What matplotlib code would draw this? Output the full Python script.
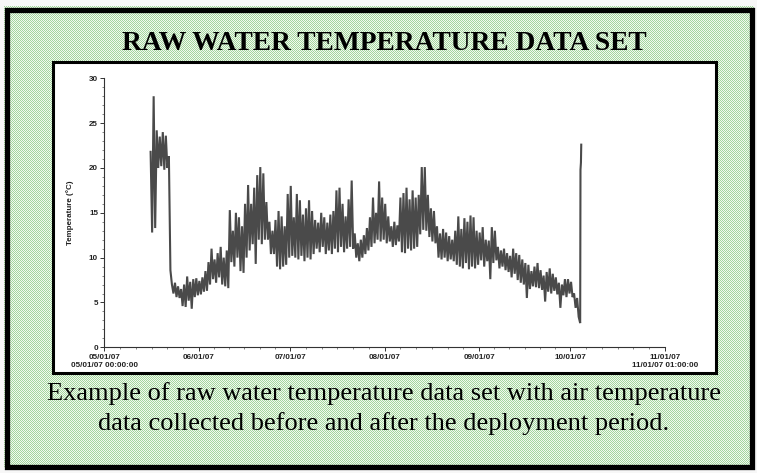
import numpy as np
import matplotlib
matplotlib.use('Agg')
import matplotlib.pyplot as plt
from matplotlib.patches import Rectangle

W, H = 757, 473

# ---------------- data ----------------
# days after 05/01/07 00:00 of the first daily record (May 16)
first_day = 15
daily_max = [21.8, 28.0, 24.2, 23.5, 24.0, 23.6, 21.3,
             7.0, 7.2, 6.8, 6.5, 7.0, 7.9, 7.3, 7.6, 7.7, 7.4, 7.8, 8.5,
             9.5, 11.0, 9.8, 10.5, 11.2, 10.0, 10.8,
             15.3, 13.0, 15.0, 14.5, 13.5, 16.0, 18.1, 16.0, 17.8, 19.2, 20.1,
             19.4, 16.2, 14.0, 13.0, 14.2, 15.2, 14.6, 13.5, 17.1, 18.0,
             14.5, 17.1, 16.4, 14.8, 15.5, 16.4, 15.2, 14.2, 13.9, 15.0,
             14.5, 13.9, 14.8, 15.2, 17.5, 17.8, 16.0, 14.6, 16.5, 18.6,
             12.7, 11.6, 12.0, 12.5, 13.3, 14.5, 16.7, 15.0, 18.5, 16.7,
             16.0, 14.6, 13.5, 14.0, 13.6, 16.7, 17.2, 17.8, 16.5, 17.5,
             16.7, 17.0, 20.1, 20.1, 17.0, 15.5, 15.2, 13.5, 12.7, 13.2,
             12.8, 12.4, 12.0, 13.0, 14.6, 13.2, 14.4, 14.0, 14.7, 14.5,
             13.0, 12.8, 13.4, 12.0, 11.9, 13.4, 13.0, 11.2, 10.8, 11.0,
             10.5, 10.2, 11.0, 10.5, 10.3, 9.8, 9.4, 9.2, 8.5, 9.0,
             9.4, 8.6, 8.0, 8.4, 8.8, 8.2, 7.8, 7.2, 7.0, 7.6,
             7.6, 7.3, 6.0, 5.5]
daily_min = [12.8, 13.3, 20.0, 20.2, 19.8, 20.0, 8.6,
             6.0, 5.6, 5.5, 4.6, 4.5, 5.2, 4.3, 5.6, 5.8, 5.9, 6.2, 6.3,
             7.0, 7.6, 7.2, 7.8, 7.0, 6.8, 6.6,
             9.5, 9.0, 10.0, 8.5, 8.3, 10.0, 10.8, 11.5, 9.3, 12.0, 11.5,
             12.0, 12.0, 10.4, 10.4, 9.0, 8.7, 9.0, 9.2, 10.0, 10.2,
             10.0, 9.8, 10.2, 9.6, 10.0, 9.8, 10.4, 11.0, 10.6, 11.2,
             10.4, 10.8, 10.4, 11.0, 10.6, 11.2, 10.6, 11.0, 11.2, 11.0,
             10.0, 9.6, 10.0, 10.4, 10.8, 11.2, 11.6, 12.0, 11.8, 12.0,
             11.6, 11.8, 11.2, 11.4, 11.8, 10.6, 10.5, 11.0, 10.8, 11.0,
             11.2, 12.6, 13.1, 13.0, 12.3, 11.8, 11.6, 10.0, 9.8, 10.0,
             9.6, 9.8, 9.6, 9.2, 9.0, 8.8, 9.4, 8.7, 9.0, 8.8,
             9.2, 9.7, 9.0, 9.6, 7.6, 9.4, 9.7, 8.8, 9.0, 8.6,
             8.4, 7.8, 8.2, 7.5, 7.2, 7.0, 5.5, 6.5, 6.8, 6.7,
             6.6, 6.4, 5.1, 6.2, 6.0, 6.3, 5.9, 4.4, 5.8, 5.6,
             6.0, 5.6, 4.4, 3.4]
# air temperature after retrieval (10/05/07)
retrieval_days = [156.2, 156.3, 156.45, 156.55]
retrieval_temp = [2.7, 19.8, 20.6, 22.6]

month_days = [0, 31, 61, 92, 123, 153, 184]
month_labels = ['05/01/07\n05/01/07 00:00:00', '06/01/07', '07/01/07', '08/01/07',
                '09/01/07', '10/01/07', '11/01/07\n11/01/07 01:00:00']
y_ticks = [0, 5, 10, 15, 20, 25, 30]

title = 'RAW WATER TEMPERATURE DATA SET'
caption_lines = ['Example of raw water temperature data set with air temperature',
                 'data collected before and after the deployment period.']

# ---------------- build series ----------------
t, v = [], []
for i, (mx, mn) in enumerate(zip(daily_max, daily_min)):
    d = first_day + i
    t += [d + 0.2, d + 0.7]
    v += [mx, mn]
t += retrieval_days
v += retrieval_temp

# ---------------- figure ----------------
fig = plt.figure(figsize=(W / 100, H / 100), dpi=100)
fig.patch.set_facecolor('white')

def fx(px):
    return px / W

def fy(py):  # py measured from top
    return 1 - py / H

# green dotted background inside outer frame
ii, jj = np.mgrid[0:H, 0:W]
img = np.ones((H, W, 3))
green = np.array([0.64, 0.84, 0.62])
light = np.array([0.95, 0.98, 0.94])
mask = ((ii + jj) % 2 == 0)
img[mask] = green
img[~mask] = light
outside = (ii < 6) | (ii > H - 6) | (jj < 4) | (jj > W - 4)
img[outside] = [0.97, 0.97, 0.97]
fig.figimage(img[::-1], 0, 0, zorder=-3, origin='lower')

# outer black frame
fig.patches.append(Rectangle((fx(7), fy(467)), fx(745), (467 - 10) / H,
                             transform=fig.transFigure, fill=False,
                             ec='black', lw=3.8, zorder=-2))
# white chart panel
fig.patches.append(Rectangle((fx(53), fy(373)), fx(716 - 53), (373 - 62) / H,
                             transform=fig.transFigure, fc='white',
                             ec='black', lw=2.2, zorder=-1))

ax = fig.add_axes([fx(104.3), fy(347.3), fx(665 - 104.3), (347.3 - 78.3) / H])
ax.patch.set_alpha(0)
ax.plot(t, v, color='#4a4a4a', lw=1.5, solid_joinstyle='miter')
ax.set_xlim(0, 184 + 1 / 24)
ax.set_ylim(0, 30)
for s in ['top', 'right']:
    ax.spines[s].set_visible(False)
for s in ['left', 'bottom']:
    ax.spines[s].set_color('#333333')
    ax.spines[s].set_linewidth(0.8)

narrow = ['Liberation Sans Narrow', 'Liberation Sans', 'DejaVu Sans']
ax.set_yticks(y_ticks)
ax.set_yticklabels([str(y) for y in y_ticks], fontfamily=narrow,
                   fontweight='bold', fontsize=5.8, color='#222222')
ax.set_yticks(np.arange(0, 31, 1), minor=True)
ax.set_xticks(month_days)
ax.set_xticklabels(month_labels, fontfamily=narrow, fontweight='bold',
                   fontsize=5.8, color='#222222', linespacing=1.25)
minor = []
for a, b in zip(month_days[:-1], month_days[1:]):
    minor += [a + k * (b - a) / 6 for k in range(1, 6)]
ax.set_xticks(minor, minor=True)
ax.tick_params(axis='both', which='major', length=3, width=0.7, pad=1.5,
               color='#333333')
ax.tick_params(axis='both', which='minor', length=1.5, width=0.5,
               color='#555555')
ax.set_ylabel('Temperature (°C)', fontfamily=narrow, fontweight='bold',
              fontsize=5.8, color='#222222', labelpad=11)

serif = ['Liberation Serif', 'DejaVu Serif']
fig.text(fx(384), fy(43), title, ha='center', va='center',
         fontfamily=serif, fontweight='bold', fontsize=19.8, color='black')
fig.text(fx(384), fy(394), caption_lines[0], ha='center', va='center',
         fontfamily=serif, fontsize=19.0, color='black')
fig.text(fx(384), fy(424), caption_lines[1], ha='center', va='center',
         fontfamily=serif, fontsize=19.0, color='black')

fig.savefig('out.png', dpi=100)
